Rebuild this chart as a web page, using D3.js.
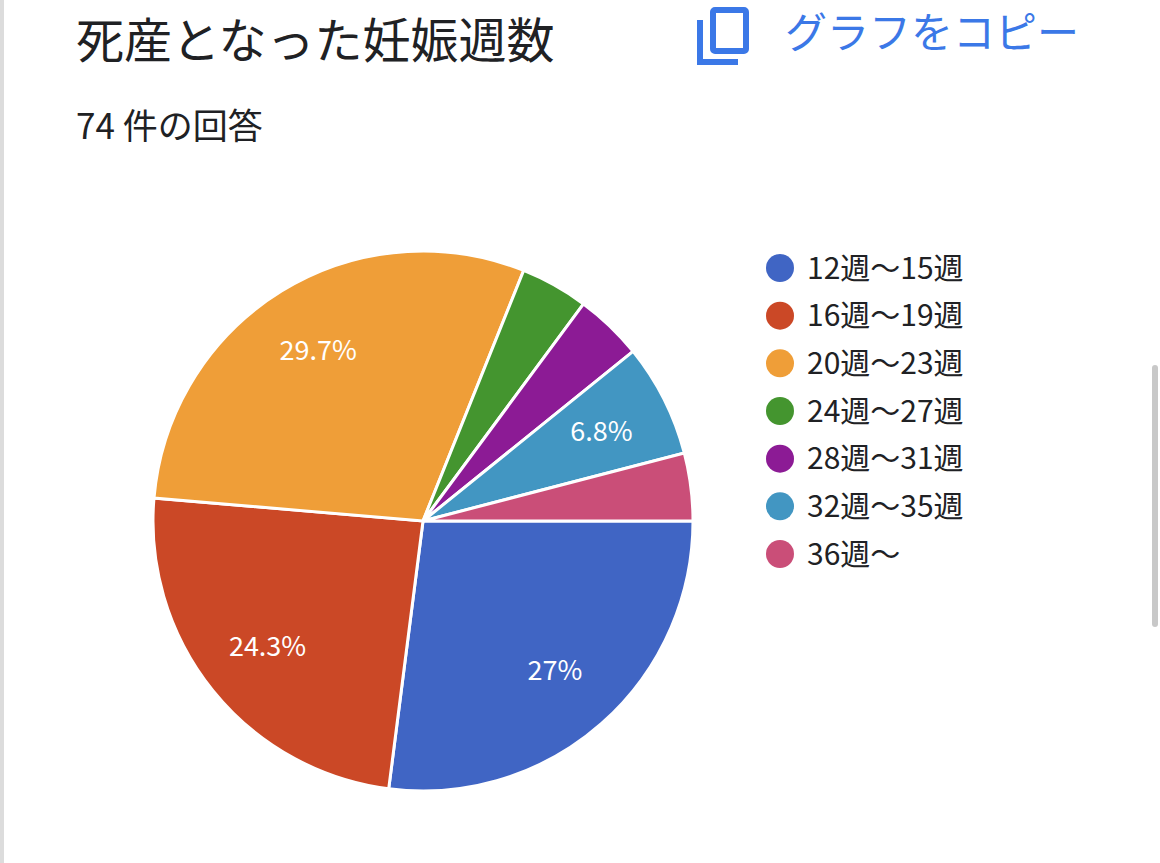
<!DOCTYPE html>
<html><head><meta charset="utf-8">
<script src="https://cdn.jsdelivr.net/npm/d3@7"></script>
<style>body{margin:0;background:#fff;font-family:"Noto Sans CJK JP","Noto Sans",sans-serif;}</style>
</head><body>
<svg id="chart" width="1160" height="863"></svg>
<script>
const categories = ['12週〜15週', '16週〜19週', '20週〜23週', '24週〜27週', '28週〜31週', '32週〜35週', '36週〜'];
const counts = [20, 18, 22, 3, 3, 5, 3];
const colors = ['#4065c4', '#cb4826', '#ef9e38', '#44952f', '#8c1b95', '#4296c2', '#ca4e78'];
const total = d3.sum(counts);

const svg = d3.select('#chart');
svg.append('rect').attr('x', 0).attr('y', 0).attr('width', 4).attr('height', 863).attr('fill', '#dcdcdc');
svg.append('rect').attr('x', 1152).attr('y', 365).attr('width', 6).attr('height', 262).attr('rx', 3).attr('fill', '#c8c8c8');

svg.append('text').attr('x', 76).attr('y', 58).attr('font-size', 48).attr('fill', '#202124').text('死産となった妊娠週数');
svg.append('text').attr('x', 76).attr('y', 139).attr('font-size', 35).attr('fill', '#202124').text('74 件の回答');

// copy icon
const icon = svg.append('g').attr('fill', 'none').attr('stroke', '#3b78e7').attr('stroke-width', 6);
icon.append('path').attr('d', 'M700,20 V62 H738');
icon.append('rect').attr('x', 713).attr('y', 10).attr('width', 33).attr('height', 41).attr('rx', 2);
svg.append('text').attr('x', 785).attr('y', 48).attr('font-size', 42).attr('fill', '#3b78e7').text('グラフをコピー');

const cx = 423, cy = 521, r = 270;
const pie = d3.pie().sort(null).startAngle(Math.PI / 2).endAngle(Math.PI / 2 + 2 * Math.PI);
const arcs = pie(counts);
const arc = d3.arc().innerRadius(0).outerRadius(r);
const labelArc = d3.arc().innerRadius(r * 0.74).outerRadius(r * 0.74);
const g = svg.append('g').attr('transform', `translate(${cx},${cy})`);
g.selectAll('path').data(arcs).join('path')
  .attr('d', arc).attr('fill', (d, i) => colors[i])
  .attr('stroke', '#fff').attr('stroke-width', 3);
g.selectAll('text').data(arcs.filter(d => d.data / total > 0.05)).join('text')
  .attr('transform', d => `translate(${labelArc.centroid(d)})`)
  .attr('text-anchor', 'middle').attr('dy', '0.35em')
  .attr('font-size', 27).attr('fill', '#fff')
  .text(d => { const p = Math.round(d.data / total * 1000) / 10; return p + '%'; });

const y = d3.scalePoint().domain(categories).range([268, 554]);
const leg = svg.append('g').selectAll('g').data(categories).join('g')
  .attr('transform', d => `translate(780,${y(d)})`);
leg.append('circle').attr('r', 14).attr('fill', (d, i) => colors[i]);
leg.append('text').attr('x', 27).attr('dy', '0.35em').attr('font-size', 30).attr('fill', '#202124').text(d => d);
</script>
</body></html>
